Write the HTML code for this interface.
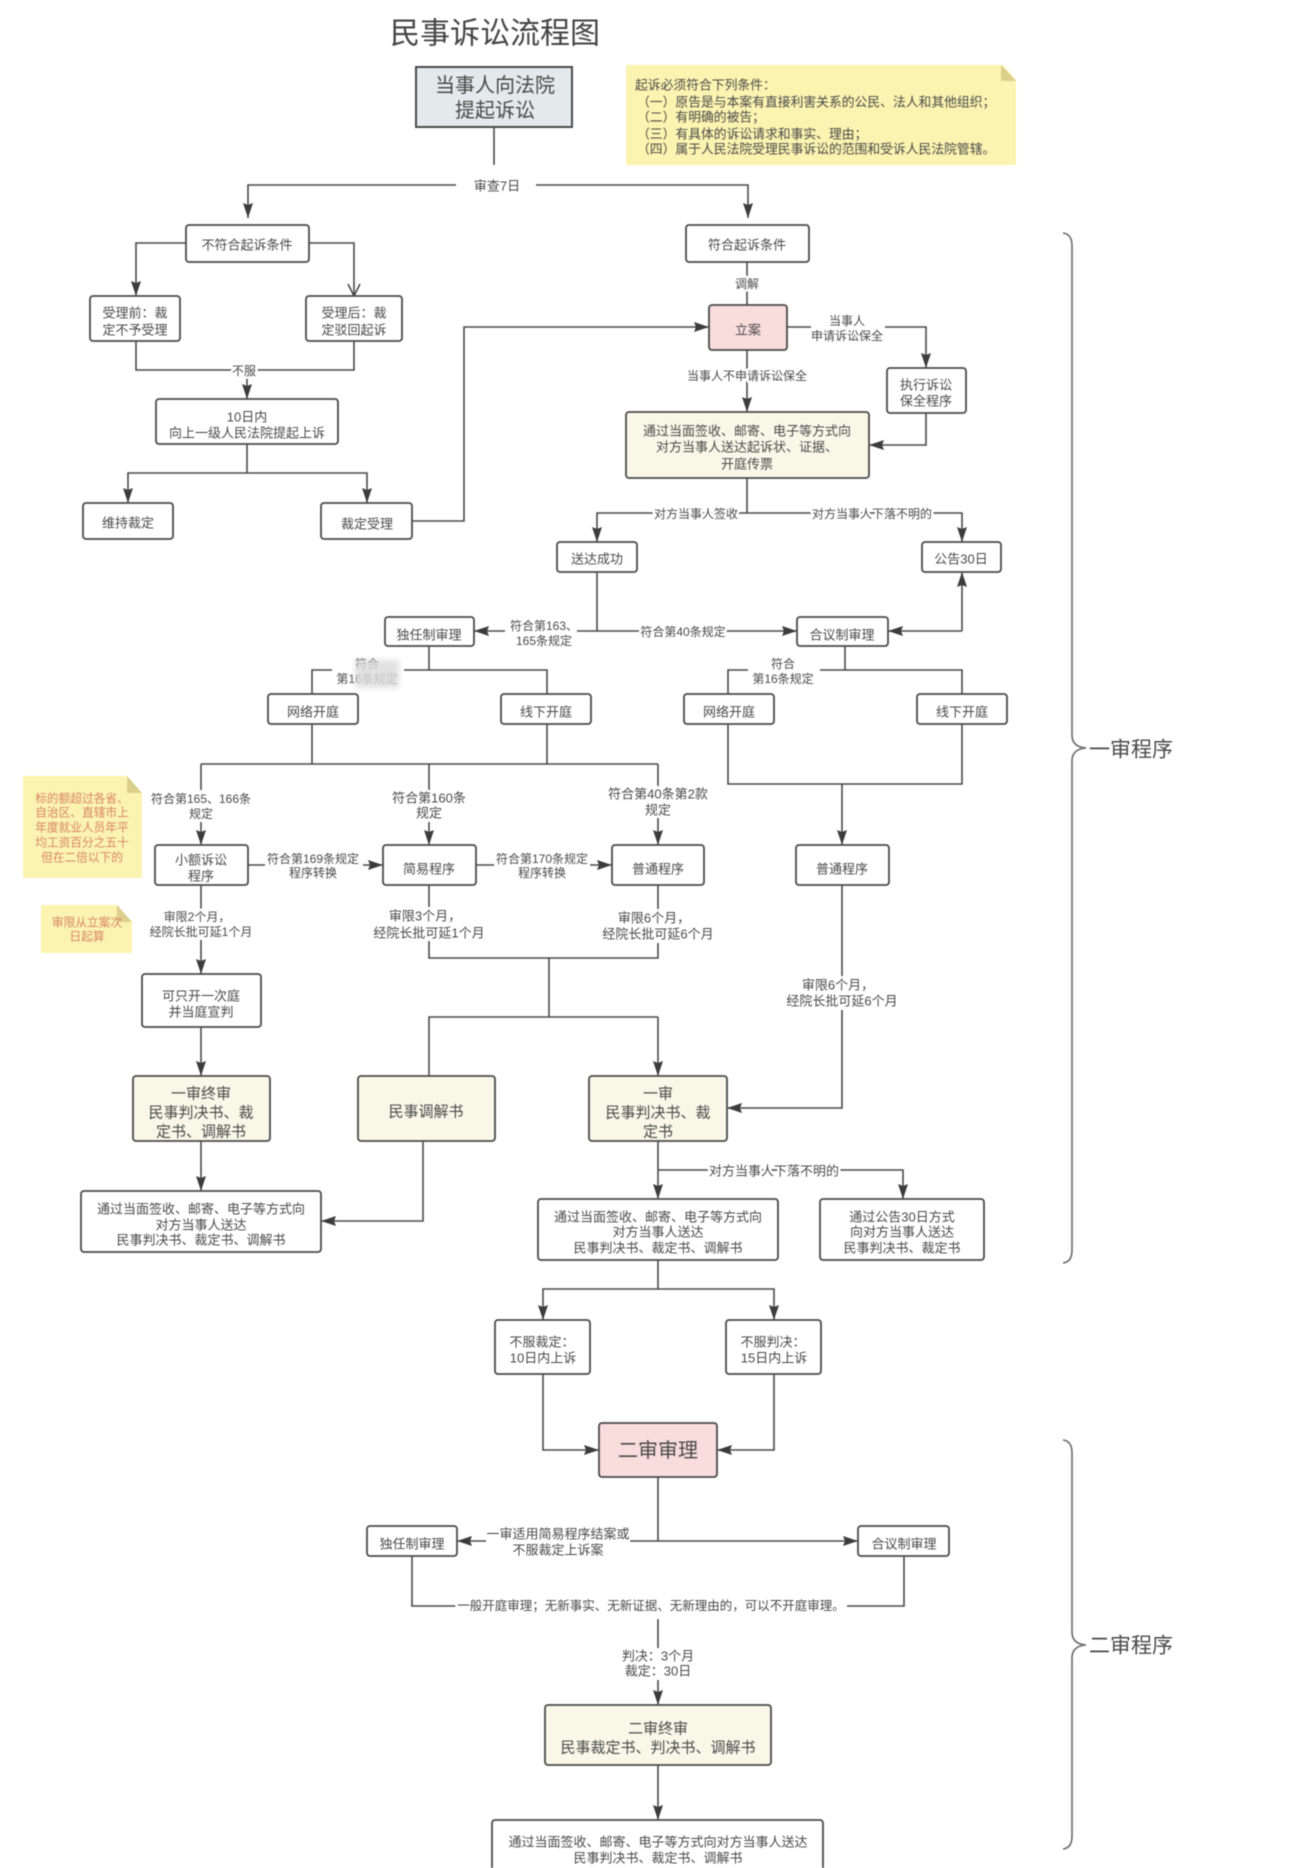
<!DOCTYPE html>
<html lang="zh"><head><meta charset="utf-8"><title>民事诉讼流程图</title>
<style>
html,body{margin:0;padding:0;background:#fff;width:1289px;height:1868px;overflow:hidden}
svg{display:block;filter:blur(.55px)}
text{font-family:"Liberation Sans","Noto Sans CJK SC",sans-serif;fill:#4a4a4a;text-anchor:middle;dominant-baseline:central;transform:translateY(1px)}
.b{fill:#fff;stroke:#4a4a4a;stroke-width:1.8}
.y{fill:#f9f8e8}.p{fill:#f9dcdc}
.l{fill:none;stroke:#4a4a4a;stroke-width:1.6}
.t{font-size:13px}
.lb{font-size:12px;paint-order:stroke;stroke:#fff;stroke-width:5px;stroke-linejoin:round}
.lc{font-size:13px;paint-order:stroke;stroke:#fff;stroke-width:5px;stroke-linejoin:round}
.ls{font-size:15px}
.n{font-size:12.8px;text-anchor:start}
.r{font-size:11.7px;fill:#d88660}
</style></head><body>
<svg width="1289" height="1868" viewBox="0 0 1289 1868" xmlns="http://www.w3.org/2000/svg">
<defs>
<marker id="a" markerUnits="userSpaceOnUse" markerWidth="16" markerHeight="12" refX="15" refY="6" orient="auto"><path d="M0 1L15 6L0 11L2 6Z" fill="#3c3c3c"/></marker>
<marker id="o" markerUnits="userSpaceOnUse" markerWidth="14" markerHeight="14" refX="13" refY="7" orient="auto"><path d="M1 1L13 7L1 13" fill="none" stroke="#3c3c3c" stroke-width="1.4"/></marker>
</defs>
<rect width="1289" height="1868" fill="#fff"/>
<text x="495" y="33" font-size="30" style="fill:#444">民事诉讼流程图</text>

<!-- notes -->
<path d="M626 65H1003L1016 80V165H626Z" fill="#fbf3b0"/><path d="M1001 65L1016 81H1001Z" fill="#dccf8c"/>
<path d="M23 776H127L142 793V878H23Z" fill="#fbf3b0"/><path d="M127 776L142 793H127Z" fill="#dccf8c"/>
<path d="M41 905H117L132 922V953H41Z" fill="#fbf3b0"/><path d="M117 905L132 922H117Z" fill="#dccf8c"/>

<!-- connectors -->
<path class="l" d="M494 127V165"/>
<path class="l" d="M456 185H248V218" marker-end="url(#a)"/>
<path class="l" d="M536 185H748V218" marker-end="url(#a)"/>
<path class="l" d="M186 243H136V296" marker-end="url(#a)"/>
<path class="l" d="M309 243H354V296" marker-end="url(#o)"/>
<path class="l" d="M136 341V370H354V341"/>
<path class="l" d="M247 370V399" marker-end="url(#a)"/>
<path class="l" d="M247 444V473"/>
<path class="l" d="M247 473H128V503" marker-end="url(#a)"/>
<path class="l" d="M247 473H367V503" marker-end="url(#a)"/>
<path class="l" d="M412 521H464V327H709" marker-end="url(#a)"/>
<path class="l" d="M747 262V305"/>
<path class="l" d="M787 327H926V368" marker-end="url(#a)"/>
<path class="l" d="M747 350V412" marker-end="url(#a)"/>
<path class="l" d="M926 413V445H869" marker-end="url(#a)"/>
<path class="l" d="M747 478V513"/>
<path class="l" d="M747 513H597V542" marker-end="url(#a)"/>
<path class="l" d="M747 513H962V542" marker-end="url(#a)"/>
<path class="l" d="M597 572V631"/>
<path class="l" d="M597 631H474" marker-end="url(#a)"/>
<path class="l" d="M597 631H797" marker-end="url(#a)"/>
<path class="l" d="M962 631V572" marker-end="url(#a)"/>
<path class="l" d="M962 631H888" marker-end="url(#a)"/>
<path class="l" d="M429 646V670M312 694V670H547V694"/>
<path class="l" d="M845 646V670M728 694V670H962V694"/>
<path class="l" d="M312 724V764M547 724V764M201 764H658"/>
<path class="l" d="M201 764V845" marker-end="url(#a)"/>
<path class="l" d="M429 764V845" marker-end="url(#a)"/>
<path class="l" d="M658 764V845" marker-end="url(#a)"/>
<path class="l" d="M728 724V784H962V724"/>
<path class="l" d="M842 784V845" marker-end="url(#a)"/>
<path class="l" d="M248 865H383" marker-end="url(#a)"/>
<path class="l" d="M476 865H612" marker-end="url(#a)"/>
<path class="l" d="M201 885V974" marker-end="url(#a)"/>
<path class="l" d="M201 1027V1076" marker-end="url(#a)"/>
<path class="l" d="M201 1141V1191" marker-end="url(#a)"/>
<path class="l" d="M429 885V958H658V885"/>
<path class="l" d="M549 958V1017M429 1076V1017H658"/>
<path class="l" d="M658 1017V1076" marker-end="url(#a)"/>
<path class="l" d="M842 885V1108H727" marker-end="url(#a)"/>
<path class="l" d="M423 1141V1221H321" marker-end="url(#a)"/>
<path class="l" d="M658 1141V1199" marker-end="url(#a)"/>
<path class="l" d="M658 1170H903V1199" marker-end="url(#a)"/>
<path class="l" d="M658 1260V1289"/>
<path class="l" d="M658 1289H543V1320" marker-end="url(#a)"/>
<path class="l" d="M658 1289H774V1320" marker-end="url(#a)"/>
<path class="l" d="M543 1374V1450H599" marker-end="url(#a)"/>
<path class="l" d="M774 1374V1450H717" marker-end="url(#a)"/>
<path class="l" d="M658 1477V1541"/>
<path class="l" d="M658 1541H457" marker-end="url(#a)"/>
<path class="l" d="M658 1541H858" marker-end="url(#a)"/>
<path class="l" d="M412 1556V1606H458M847 1606H904V1556"/>
<path class="l" d="M658 1619V1705" marker-end="url(#a)"/>
<path class="l" d="M658 1765V1820" marker-end="url(#a)"/>

<!-- braces -->
<path d="M1063 233Q1072 234 1072 246V735Q1072 747 1086 748Q1072 749 1072 761V1250Q1072 1262 1063 1263" fill="none" stroke="#6a6a6a" stroke-width="1.6"/>
<path d="M1063 1440Q1072 1441 1072 1453V1632Q1072 1644 1086 1645Q1072 1646 1072 1658V1836Q1072 1848 1063 1849" fill="none" stroke="#6a6a6a" stroke-width="1.6"/>

<!-- boxes -->
<rect x="416" y="67" width="156" height="60" fill="#e4e9eb" stroke="#4a4a4a" stroke-width="2"/>
<rect class="b" x="186" y="225" width="123" height="37" rx="3"/>
<rect class="b" x="686" y="225" width="123" height="37" rx="3"/>
<rect class="b" x="90" y="296" width="90" height="45" rx="3"/>
<rect class="b" x="306" y="296" width="96" height="45" rx="3"/>
<rect class="b p" x="709" y="305" width="78" height="45" rx="3"/>
<rect class="b" x="887" y="368" width="79" height="45" rx="3"/>
<rect class="b" x="156" y="399" width="182" height="45" rx="3"/>
<rect class="b y" x="626" y="412" width="243" height="66" rx="3"/>
<rect class="b" x="83" y="503" width="90" height="36" rx="3"/>
<rect class="b" x="321" y="503" width="91" height="36" rx="3"/>
<rect class="b" x="557" y="542" width="80" height="30" rx="3"/>
<rect class="b" x="922" y="542" width="79" height="30" rx="3"/>
<rect class="b" x="385" y="617" width="89" height="29" rx="3"/>
<rect class="b" x="797" y="617" width="91" height="29" rx="3"/>
<rect class="b" x="268" y="694" width="90" height="30" rx="3"/>
<rect class="b" x="501" y="694" width="90" height="30" rx="3"/>
<rect class="b" x="684" y="694" width="90" height="30" rx="3"/>
<rect class="b" x="917" y="694" width="90" height="30" rx="3"/>
<rect class="b" x="155" y="845" width="93" height="40" rx="3"/>
<rect class="b" x="383" y="845" width="93" height="40" rx="3"/>
<rect class="b" x="612" y="845" width="92" height="40" rx="3"/>
<rect class="b" x="796" y="845" width="93" height="40" rx="3"/>
<rect class="b" x="142" y="974" width="119" height="53" rx="3"/>
<rect class="b y" x="133" y="1076" width="137" height="65" rx="3"/>
<rect class="b y" x="358" y="1076" width="137" height="65" rx="3"/>
<rect class="b y" x="589" y="1076" width="138" height="65" rx="3"/>
<rect class="b" x="81" y="1191" width="240" height="61" rx="3"/>
<rect class="b" x="538" y="1199" width="240" height="61" rx="3"/>
<rect class="b" x="820" y="1199" width="164" height="61" rx="3"/>
<rect class="b" x="495" y="1320" width="95" height="54" rx="3"/>
<rect class="b" x="726" y="1320" width="95" height="54" rx="3"/>
<rect class="b p" x="599" y="1423" width="118" height="54" rx="3"/>
<rect class="b" x="367" y="1526" width="90" height="30" rx="3"/>
<rect class="b" x="858" y="1526" width="91" height="30" rx="3"/>
<rect class="b y" x="545" y="1705" width="226" height="60" rx="3"/>
<rect class="b" x="492" y="1820" width="331" height="60" rx="3"/>

<!-- box text -->
<text x="495" y="85" font-size="20">当事人向法院</text><text x="495" y="110" font-size="20">提起诉讼</text>
<text class="t" x="247" y="244">不符合起诉条件</text>
<text class="t" x="747" y="244">符合起诉条件</text>
<text class="t" x="135" y="312">受理前：裁</text><text class="t" x="135" y="329">定不予受理</text>
<text class="t" x="354" y="312">受理后：裁</text><text class="t" x="354" y="329">定驳回起诉</text>
<text class="t" x="748" y="329">立案</text>
<text class="t" x="926" y="384">执行诉讼</text><text class="t" x="926" y="400">保全程序</text>
<text class="t" x="247" y="416">10日内</text><text class="t" x="247" y="432">向上一级人民法院提起上诉</text>
<text class="t" x="747" y="430">通过当面签收、邮寄、电子等方式向</text><text class="t" x="747" y="446">对方当事人送达起诉状、证据、</text><text class="t" x="747" y="463">开庭传票</text>
<text class="t" x="128" y="522">维持裁定</text>
<text class="t" x="367" y="523">裁定受理</text>
<text class="t" x="597" y="558">送达成功</text>
<text class="t" x="961" y="558">公告30日</text>
<text class="t" x="429" y="634">独任制审理</text>
<text class="t" x="842" y="634">合议制审理</text>
<text class="t" x="313" y="711">网络开庭</text>
<text class="t" x="546" y="711">线下开庭</text>
<text class="t" x="729" y="711">网络开庭</text>
<text class="t" x="962" y="711">线下开庭</text>
<text class="t" x="201" y="859">小额诉讼</text><text class="t" x="201" y="875">程序</text>
<text class="t" x="429" y="868">简易程序</text>
<text class="t" x="658" y="868">普通程序</text>
<text class="t" x="842" y="868">普通程序</text>
<text class="t" x="201" y="995">可只开一次庭</text><text class="t" x="201" y="1011">并当庭宣判</text>
<text class="ls" x="201" y="1093">一审终审</text><text class="ls" x="201" y="1112">民事判决书、裁</text><text class="ls" x="201" y="1131">定书、调解书</text>
<text class="ls" x="426" y="1111">民事调解书</text>
<text class="ls" x="658" y="1093">一审</text><text class="ls" x="658" y="1112">民事判决书、裁</text><text class="ls" x="658" y="1131">定书</text>
<text class="t" x="201" y="1208">通过当面签收、邮寄、电子等方式向</text><text class="t" x="201" y="1224">对方当事人送达</text><text class="t" x="201" y="1239">民事判决书、裁定书、调解书</text>
<text class="t" x="658" y="1216">通过当面签收、邮寄、电子等方式向</text><text class="t" x="658" y="1231">对方当事人送达</text><text class="t" x="658" y="1247">民事判决书、裁定书、调解书</text>
<text class="t" x="902" y="1216">通过公告30日方式</text><text class="t" x="902" y="1231">向对方当事人送达</text><text class="t" x="902" y="1247">民事判决书、裁定书</text>
<text class="t" x="542" y="1341">不服裁定：</text><text class="t" x="543" y="1357">10日内上诉</text>
<text class="t" x="773" y="1341">不服判决：</text><text class="t" x="774" y="1357">15日内上诉</text>
<text x="658" y="1450" font-size="20">二审审理</text>
<text class="t" x="412" y="1543">独任制审理</text>
<text class="t" x="904" y="1543">合议制审理</text>
<text class="ls" x="658" y="1728">二审终审</text><text class="ls" x="658" y="1747">民事裁定书、判决书、调解书</text>
<text class="t" x="658" y="1841">通过当面签收、邮寄、电子等方式向对方当事人送达</text><text class="t" x="658" y="1857">民事判决书、裁定书、调解书</text>

<!-- note text -->
<text class="n" x="635" y="84">起诉必须符合下列条件：</text>
<text class="n" x="637" y="101">（一）原告是与本案有直接利害关系的公民、法人和其他组织；</text>
<text class="n" x="637" y="116">（二）有明确的被告；</text>
<text class="n" x="637" y="133">（三）有具体的诉讼请求和事实、理由；</text>
<text class="n" x="637" y="148">（四）属于人民法院受理民事诉讼的范围和受诉人民法院管辖。</text>
<text class="r" x="82" y="798">标的额超过各省、</text><text class="r" x="82" y="812">自治区、直辖市上</text><text class="r" x="82" y="827">年度就业人员年平</text><text class="r" x="82" y="842">均工资百分之五十</text><text class="r" x="82" y="857">但在二倍以下的</text>
<text class="r" x="87" y="922">审限从立案次</text><text class="r" x="87" y="936">日起算</text>

<!-- label backing -->
<g fill="#fff">
<rect x="811" y="312" width="74" height="32"/>
<rect x="505" y="618" width="72" height="30"/>
<rect x="332" y="655" width="72" height="30"/>
<rect x="748" y="655" width="72" height="30"/>
<rect x="486" y="1526" width="144" height="32"/>
<rect x="622" y="1648" width="72" height="32"/>
<rect x="150" y="790" width="102" height="32"/>
<rect x="386" y="790" width="86" height="32"/>
<rect x="608" y="786" width="100" height="32"/>
<rect x="265" y="852" width="98" height="28"/>
<rect x="494" y="852" width="96" height="28"/>
<rect x="150" y="910" width="102" height="30"/>
<rect x="374" y="908" width="110" height="33"/>
<rect x="602" y="910" width="112" height="33"/>
<rect x="786" y="977" width="112" height="33"/>
</g>

<!-- connector labels -->
<text class="lc" x="497" y="185">审查7日</text>
<text class="lb" x="244" y="370">不服</text>
<text class="lb" x="747" y="283">调解</text>
<text class="lb" x="847" y="320">当事人</text><text class="lb" x="847" y="335">申请诉讼保全</text>
<text class="lb" x="747" y="375">当事人不申请诉讼保全</text>
<text class="lb" x="696" y="513">对方当事人签收</text>
<text class="lb" x="872" y="513">对方当事人下落不明的</text>
<text class="lb" x="544" y="625">符合第163、</text><text class="lb" x="544" y="640">165条规定</text>
<text class="lb" x="683" y="631">符合第40条规定</text>
<text class="lb" x="367" y="663">符合</text><text class="lb" x="367" y="678">第16条规定</text>
<rect x="355" y="660" width="44" height="28" fill="#dcdcdc" opacity=".85" style="filter:blur(3px)"/>
<text class="lb" x="783" y="663">符合</text><text class="lb" x="783" y="678">第16条规定</text>
<text class="lb" x="201" y="798">符合第165、166条</text><text class="lb" x="201" y="813">规定</text>
<text class="lc" x="429" y="797">符合第160条</text><text class="lc" x="429" y="812">规定</text>
<text class="lc" x="658" y="793">符合第40条第2款</text><text class="lc" x="658" y="809">规定</text>
<text class="lb" x="313" y="858">符合第169条规定</text><text class="lb" x="313" y="872">程序转换</text>
<text class="lb" x="542" y="858">符合第170条规定</text><text class="lb" x="542" y="872">程序转换</text>
<text class="lb" x="197" y="916">审限2个月，</text><text class="lb" x="201" y="931">经院长批可延1个月</text>
<text class="lc" x="425" y="915">审限3个月，</text><text class="lc" x="429" y="932">经院长批可延1个月</text>
<text class="lc" x="654" y="917">审限6个月，</text><text class="lc" x="658" y="933">经院长批可延6个月</text>
<text class="lc" x="838" y="984">审限6个月，</text><text class="lc" x="842" y="1000">经院长批可延6个月</text>
<text class="lc" x="774" y="1170">对方当事人下落不明的</text>
<text class="lc" x="558" y="1533">一审适用简易程序结案或</text><text class="lc" x="558" y="1549">不服裁定上诉案</text>
<text class="lb" x="651" y="1605" style="font-size:12.5px">一般开庭审理；无新事实、无新证据、无新理由的，可以不开庭审理。</text>
<text class="lc" x="658" y="1655">判决：3个月</text><text class="lc" x="658" y="1670">裁定：30日</text>

<text x="1131" y="749" font-size="21">一审程序</text>
<text x="1131" y="1645" font-size="21">二审程序</text>
</svg>
</body></html>
